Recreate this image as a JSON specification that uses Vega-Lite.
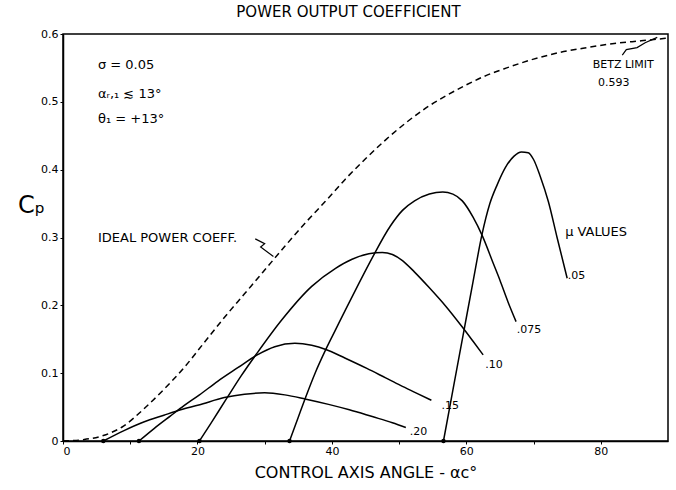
{
  "$schema": "https://vega.github.io/schema/vega-lite/v6.json",
  "width": 605,
  "height": 407,
  "autosize": {"type": "none"},
  "padding": {"left": 63, "top": 34, "right": 8, "bottom": 49},
  "background": "white",
  "config": {
    "view": {"stroke": "black", "strokeWidth": 1.5},
    "font": "DejaVu Sans",
    "axis": {"grid": false, "domainColor": "black", "domainWidth": 1.5, "tickColor": "black", "tickSize": 3, "labelColor": "black", "titleColor": "black", "labelFontSize": 11, "titleFontWeight": "normal"}
  },
  "title": {"text": "POWER OUTPUT COEFFICIENT", "fontSize": 15, "fontWeight": "normal", "color": "black", "offset": 8, "dx": -17},
  "datasets": {
    "ideal": [
      {"angle": 0, "cp": 0}, {"angle": 3, "cp": 0.002}, {"angle": 6, "cp": 0.008}, {"angle": 9, "cp": 0.022},
      {"angle": 12, "cp": 0.047}, {"angle": 15, "cp": 0.076}, {"angle": 18, "cp": 0.108}, {"angle": 21, "cp": 0.145},
      {"angle": 24, "cp": 0.182}, {"angle": 27, "cp": 0.217}, {"angle": 30, "cp": 0.252}, {"angle": 33, "cp": 0.287},
      {"angle": 36, "cp": 0.321}, {"angle": 39, "cp": 0.353}, {"angle": 42, "cp": 0.386}, {"angle": 45, "cp": 0.416},
      {"angle": 48, "cp": 0.444}, {"angle": 51, "cp": 0.469}, {"angle": 54, "cp": 0.491}, {"angle": 57, "cp": 0.509},
      {"angle": 60, "cp": 0.525}, {"angle": 63, "cp": 0.539}, {"angle": 66, "cp": 0.55}, {"angle": 70, "cp": 0.563},
      {"angle": 74, "cp": 0.573}, {"angle": 78, "cp": 0.58}, {"angle": 82, "cp": 0.586}, {"angle": 86, "cp": 0.59},
      {"angle": 90, "cp": 0.594}
    ],
    "curves": [
      {"mu": "0.20", "angle": 6.0, "cp": 0}, {"mu": "0.20", "angle": 9, "cp": 0.015}, {"mu": "0.20", "angle": 12, "cp": 0.028},
      {"mu": "0.20", "angle": 15, "cp": 0.038}, {"mu": "0.20", "angle": 17.5, "cp": 0.046}, {"mu": "0.20", "angle": 20.2, "cp": 0.053},
      {"mu": "0.20", "angle": 24, "cp": 0.064}, {"mu": "0.20", "angle": 27, "cp": 0.069}, {"mu": "0.20", "angle": 30, "cp": 0.071},
      {"mu": "0.20", "angle": 33, "cp": 0.068}, {"mu": "0.20", "angle": 36, "cp": 0.062}, {"mu": "0.20", "angle": 39.5, "cp": 0.054},
      {"mu": "0.20", "angle": 42.6, "cp": 0.046}, {"mu": "0.20", "angle": 46, "cp": 0.036}, {"mu": "0.20", "angle": 49, "cp": 0.027},
      {"mu": "0.20", "angle": 51, "cp": 0.02},
      {"mu": "0.15", "angle": 11.3, "cp": 0}, {"mu": "0.15", "angle": 13.5, "cp": 0.018}, {"mu": "0.15", "angle": 16, "cp": 0.037},
      {"mu": "0.15", "angle": 18, "cp": 0.052}, {"mu": "0.15", "angle": 20.3, "cp": 0.068}, {"mu": "0.15", "angle": 23, "cp": 0.088},
      {"mu": "0.15", "angle": 26, "cp": 0.108}, {"mu": "0.15", "angle": 28.9, "cp": 0.127}, {"mu": "0.15", "angle": 31.5, "cp": 0.139},
      {"mu": "0.15", "angle": 34.5, "cp": 0.144}, {"mu": "0.15", "angle": 37, "cp": 0.141}, {"mu": "0.15", "angle": 39.1, "cp": 0.135},
      {"mu": "0.15", "angle": 42, "cp": 0.122}, {"mu": "0.15", "angle": 45.2, "cp": 0.107}, {"mu": "0.15", "angle": 48, "cp": 0.093},
      {"mu": "0.15", "angle": 50.2, "cp": 0.082}, {"mu": "0.15", "angle": 52.5, "cp": 0.071}, {"mu": "0.15", "angle": 54.8, "cp": 0.06},
      {"mu": "0.10", "angle": 20.3, "cp": 0}, {"mu": "0.10", "angle": 22, "cp": 0.026}, {"mu": "0.10", "angle": 24.3, "cp": 0.062},
      {"mu": "0.10", "angle": 26.5, "cp": 0.096}, {"mu": "0.10", "angle": 28.9, "cp": 0.13}, {"mu": "0.10", "angle": 32.5, "cp": 0.178},
      {"mu": "0.10", "angle": 37, "cp": 0.228}, {"mu": "0.10", "angle": 40.6, "cp": 0.255}, {"mu": "0.10", "angle": 43, "cp": 0.268},
      {"mu": "0.10", "angle": 45.5, "cp": 0.276}, {"mu": "0.10", "angle": 47.5, "cp": 0.278}, {"mu": "0.10", "angle": 49, "cp": 0.275},
      {"mu": "0.10", "angle": 50.5, "cp": 0.266}, {"mu": "0.10", "angle": 52.3, "cp": 0.249}, {"mu": "0.10", "angle": 54.4, "cp": 0.227},
      {"mu": "0.10", "angle": 57, "cp": 0.198}, {"mu": "0.10", "angle": 59.4, "cp": 0.168}, {"mu": "0.10", "angle": 61, "cp": 0.147},
      {"mu": "0.10", "angle": 62.5, "cp": 0.127},
      {"mu": "0.075", "angle": 33.7, "cp": 0}, {"mu": "0.075", "angle": 35, "cp": 0.035}, {"mu": "0.075", "angle": 36, "cp": 0.062},
      {"mu": "0.075", "angle": 37.5, "cp": 0.1}, {"mu": "0.075", "angle": 39.1, "cp": 0.135}, {"mu": "0.075", "angle": 40.5, "cp": 0.163},
      {"mu": "0.075", "angle": 42, "cp": 0.193}, {"mu": "0.075", "angle": 44, "cp": 0.232}, {"mu": "0.075", "angle": 46, "cp": 0.27},
      {"mu": "0.075", "angle": 48.7, "cp": 0.317}, {"mu": "0.075", "angle": 50.5, "cp": 0.34}, {"mu": "0.075", "angle": 52.3, "cp": 0.354},
      {"mu": "0.075", "angle": 54.5, "cp": 0.364}, {"mu": "0.075", "angle": 56.5, "cp": 0.367}, {"mu": "0.075", "angle": 58, "cp": 0.364},
      {"mu": "0.075", "angle": 59.4, "cp": 0.354}, {"mu": "0.075", "angle": 61, "cp": 0.33}, {"mu": "0.075", "angle": 62.4, "cp": 0.302},
      {"mu": "0.075", "angle": 64, "cp": 0.262}, {"mu": "0.075", "angle": 65, "cp": 0.237}, {"mu": "0.075", "angle": 66.2, "cp": 0.205},
      {"mu": "0.075", "angle": 67.4, "cp": 0.176},
      {"mu": "0.05", "angle": 56.6, "cp": 0}, {"mu": "0.05", "angle": 58, "cp": 0.075}, {"mu": "0.05", "angle": 59.5, "cp": 0.155},
      {"mu": "0.05", "angle": 61, "cp": 0.235}, {"mu": "0.05", "angle": 62.3, "cp": 0.303}, {"mu": "0.05", "angle": 63.5, "cp": 0.35},
      {"mu": "0.05", "angle": 64.6, "cp": 0.378}, {"mu": "0.05", "angle": 65.8, "cp": 0.403}, {"mu": "0.05", "angle": 67.1, "cp": 0.42},
      {"mu": "0.05", "angle": 68.2, "cp": 0.426}, {"mu": "0.05", "angle": 69.2, "cp": 0.425}, {"mu": "0.05", "angle": 70, "cp": 0.415},
      {"mu": "0.05", "angle": 71, "cp": 0.39}, {"mu": "0.05", "angle": 72.2, "cp": 0.353}, {"mu": "0.05", "angle": 73.5, "cp": 0.3},
      {"mu": "0.05", "angle": 75, "cp": 0.24}
    ],
    "leaders": [
      {"id": "ideal", "i": 1, "angle": 28.6, "cp": 0.298}, {"id": "ideal", "i": 2, "angle": 30.0, "cp": 0.291}, {"id": "ideal", "i": 3, "angle": 29.4, "cp": 0.286}, {"id": "ideal", "i": 4, "angle": 31.3, "cp": 0.272},
      {"id": "betz", "i": 1, "angle": 83.2, "cp": 0.569}, {"id": "betz", "i": 2, "angle": 83.8, "cp": 0.577}, {"id": "betz", "i": 3, "angle": 85.4, "cp": 0.58}, {"id": "betz", "i": 4, "angle": 86.6, "cp": 0.587}, {"id": "betz", "i": 5, "angle": 88.4, "cp": 0.595}
    ],
    "notes": [
      {"text": "σ = 0.05", "angle": 5.2, "cp": 0.554},
      {"text": "αᵣ,₁ ≲ 13°", "angle": 5.2, "cp": 0.512},
      {"text": "θ₁ = +13°", "angle": 5.2, "cp": 0.475},
      {"text": "IDEAL POWER COEFF.", "angle": 5.2, "cp": 0.3},
      {"text": "μ VALUES", "angle": 74.7, "cp": 0.308}
    ],
    "labels": [
      {"text": "BETZ LIMIT", "angle": 78.8, "cp": 0.554},
      {"text": "0.593", "angle": 79.6, "cp": 0.528},
      {"text": ".05", "angle": 75.1, "cp": 0.243},
      {"text": ".075", "angle": 67.5, "cp": 0.163},
      {"text": ".10", "angle": 62.8, "cp": 0.112},
      {"text": ".15", "angle": 56.3, "cp": 0.052},
      {"text": ".20", "angle": 51.6, "cp": 0.014}
    ]
  },
  "layer": [
    {
      "data": {"name": "ideal"},
      "mark": {"type": "line", "color": "black", "strokeWidth": 1.5, "strokeDash": [6, 4], "interpolate": "monotone"},
      "encoding": {
        "x": {"field": "angle", "type": "quantitative", "scale": {"domain": [0, 90], "nice": false},
          "axis": {"title": "CONTROL AXIS ANGLE - αc°", "titleFontSize": 16, "titlePadding": 8, "values": [0, 10, 20, 30, 40, 50, 60, 70, 80], "labelExpr": "datum.value % 20 == 0 ? datum.label : ''", "labelPadding": 1}},
        "y": {"field": "cp", "type": "quantitative", "scale": {"domain": [0, 0.6], "nice": false},
          "axis": {"title": "Cₚ", "titleFontSize": 24, "titleAngle": 0, "titleX": -32, "titleY": 171, "titleAlign": "center", "titleBaseline": "middle", "values": [0, 0.1, 0.2, 0.3, 0.4, 0.5, 0.6], "labelExpr": "datum.value == 0 ? '0' : format(datum.value, '.1f')", "labelPadding": 2}}
      }
    },
    {
      "data": {"name": "curves"},
      "mark": {"type": "line", "color": "black", "strokeWidth": 1.5, "interpolate": "monotone"},
      "encoding": {
        "x": {"field": "angle", "type": "quantitative"},
        "y": {"field": "cp", "type": "quantitative"},
        "detail": {"field": "mu"}
      }
    },
    {
      "data": {"name": "curves"},
      "transform": [{"filter": "datum.cp == 0"}],
      "mark": {"type": "point", "filled": true, "color": "black", "size": 20, "opacity": 1},
      "encoding": {
        "x": {"field": "angle", "type": "quantitative"},
        "y": {"field": "cp", "type": "quantitative"}
      }
    },
    {
      "data": {"name": "leaders"},
      "mark": {"type": "line", "color": "black", "strokeWidth": 1.2},
      "encoding": {
        "x": {"field": "angle", "type": "quantitative"},
        "y": {"field": "cp", "type": "quantitative"},
        "detail": {"field": "id"},
        "order": {"field": "i"}
      }
    },
    {
      "data": {"name": "notes"},
      "mark": {"type": "text", "align": "left", "baseline": "middle", "fontSize": 13, "color": "black"},
      "encoding": {
        "x": {"field": "angle", "type": "quantitative"},
        "y": {"field": "cp", "type": "quantitative"},
        "text": {"field": "text"}
      }
    },
    {
      "data": {"name": "labels"},
      "mark": {"type": "text", "align": "left", "baseline": "middle", "fontSize": 11, "color": "black"},
      "encoding": {
        "x": {"field": "angle", "type": "quantitative"},
        "y": {"field": "cp", "type": "quantitative"},
        "text": {"field": "text"}
      }
    }
  ]
}
